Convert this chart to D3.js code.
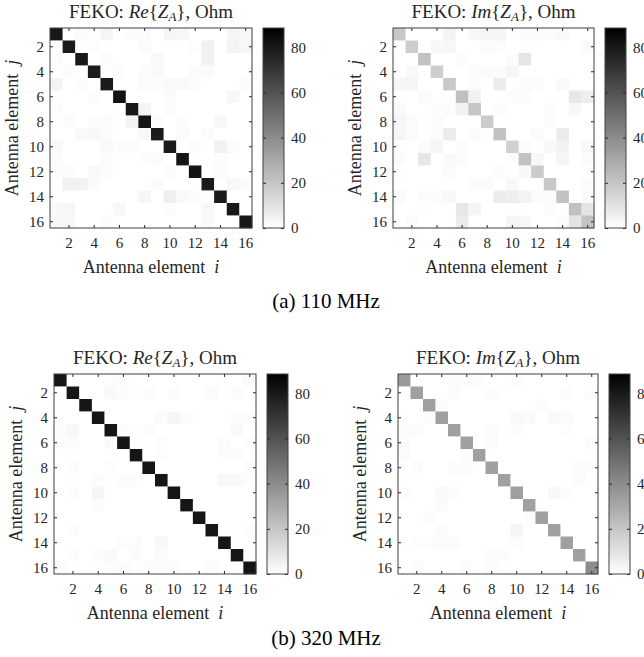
<!DOCTYPE html>
<html><head><meta charset="utf-8">
<script src="https://cdn.jsdelivr.net/npm/d3@7"></script>
<style>
body{margin:0;background:#fff;}
svg, svg text, svg tspan{font-family:'Liberation Serif','DejaVu Serif',serif !important;}
text{fill:#262626;}
</style></head>
<body><svg id="c" width="644" height="657" font-family="Liberation Serif"></svg>
<script>
const elements = d3.range(1, 17);
const axisTicks = [2, 4, 6, 8, 10, 12, 14, 16];
const colorTicks = [0, 20, 40, 60, 80];
const colorMax = 88.5;
const captions = ["(a) 110 MHz", "(b) 320 MHz"];

// rows = element j (top to bottom), columns = element i (left to right)
const reZ110 = [
 [80,0,1.5,0.5,3.5,0,1,1,0,3,2.5,0,0,0,3,2.5],
 [0.5,79,0,1,0,0,0,1.5,0,0,0,1,5,0,4,3],
 [1,0,80,0,1,0,0,0,2,0,0,0,4.5,0,0,0],
 [0,1,0,79,0,1,0,1,2,0,0,1.5,1.5,0,0,0],
 [4,0,1,0,79,0,0,1.5,1,2,2,1,0,0,0,1.5],
 [0,0,0,1,0,82,0,0,0,1.5,0,0,0,0,2.5,0],
 [1,0,0,0,0,0.5,80,3.5,0,1,0,0,0,0,0,0],
 [0.5,1.5,0,1,1.5,0,4,82,1.5,0,1,0,0,2.5,0,0],
 [0,0,2,2.5,1,0,0,2,79,0,1.5,0,1,0,0,0],
 [2,0,0,0,2,1.5,1,0,0,79,0,1,0,5,1,0],
 [1.5,0,0,0,1.5,0,0,1,1.5,0,81,0,0,1,0,0],
 [1,1,0,2,1,0,0,0,0,1.5,0,82,0,1,0,0],
 [0,4.5,4.5,1.5,0,0,0,0,1.5,0,0,0,79,0,2.5,1.5],
 [0,0,0,0,0,0,0,3,0,5.5,2,1,0,79,0,0],
 [2,3,0,0,0,2.5,0,0,0,1,0,0,2.5,0,80,0],
 [2.5,2.5,0,0,1.5,0,0,0,0,0,0,0,2,0,0,81]
];
const imZ110 = [
 [19,0,0,0,3.5,0,2.5,3,3,0,1.5,1.5,1,2,0,0],
 [0,17.5,0,2.5,3,0,0,1.5,1,0,0,0,0,0,0,1.5],
 [0,0,21,0,0,1.5,0,0,0,1,9,0,0,0,0,0],
 [0,2.5,0,17.5,0,0,1,1.5,1.5,3,0,0,0,0,0,0],
 [3,3.5,0,0,19,0,1.5,0,6.5,0,1.5,1.5,0,2,0,0],
 [0,0,1.5,0,0,22,5,0,0,1,1,0,0,0,8,6],
 [2,0,0,1,1.5,4.5,20,0,1,0,0,0,1.5,0,2.5,0],
 [3,1.5,0,1.5,0,0,0,18,0,0,0,0,1.5,0,0,0],
 [3.5,1.5,0,1,6.5,0,1.5,0,21,0,0,1.5,0,7,0,0],
 [0,0,1.5,3.5,0,1.5,0,0,0,16,1.5,0,2.5,4.5,0,2.5],
 [1.5,0,8.5,0,2,1.5,0,0,0,1,21,2.5,0,3.5,0,1.5],
 [0,0,0,0,1.5,0,0,0,1,0.5,2.5,18,0,0,0,0],
 [0,0,0,0,0,0,1.5,1.5,0,2.5,0,0,19,0,0,1],
 [2,0,1,1,2.5,0,0,0,6.5,6,4,1.5,1,21,0,1.5],
 [0,0,0.5,0,0,8.5,3.5,0,0,0,0,0,1.5,0,22,9.5],
 [0,1.5,0,0,0,6.5,0,0,0,3,2.5,0,0,1.5,9.5,21]
];
const reZ320 = [
 [81,0,0,0,1,1,0,0,0,0,0,0,0,0,0,1.5],
 [0,81,0,0,2,1,0,1,0,1,0,0,1.5,0,1.5,0],
 [0,0,81,0,0,0,0,0,0,0,0,0,0,0,0,0],
 [0,0,0,81,0,0,0,0,1.5,3,1,0,0,0,1,1],
 [1,2.5,0,0,81,1,0,1,0,0,0,0,0,0,2,0],
 [1,1.5,0,0,1.5,81,0,0,1,0,0,0,0,1,0,1],
 [0,0,0,0,0,0,81,0,1,0,0,0,0,1,1,0],
 [0,1,0,0,1,0,0,81,0,0,0,0,0,0,0,1],
 [0,0,0,1,0,1,1,0,81,0,0,0,0,2.5,2,1],
 [0,1,0,3,0,0,0,0,0,81,0,0,0,0,0,0],
 [0,0,0,1,0,0,0,0,0,0,81,0,0,0,0,0],
 [0,0,0,0,0,0,0,0,0,0,0,81,0,0,0,0],
 [0,1,0,0,0,0,0,0,0,0,0,0,81,0,0,1],
 [0,0,0,0,0,1,1,0,2.5,0,0,0,0,81,0,0],
 [0,1,0,1,2,0,1,0,1.5,0,0,0,0,0,81,0],
 [1,0,0,0,1,1.5,0,1,1,1,0,0,1,0,0,82]
];
const imZ320 = [
 [35,0,0,0,1.5,1.5,1,0,0,1,0,0,0,0,0,0],
 [0,33,0,0,1.5,0,0,1,0,0,0,0,0,1,0,1],
 [0,0,33,1,0,0,0,0,0,0,0,1,0,0,0,0],
 [0,0,1,33,0,0,0,0,0,2,1.5,0,2,1.5,0,0],
 [1.5,1.5,0,0,33,0,0,1,0,1,0,0,0,1,0,0],
 [1.5,0,0,0,0,33,0.5,1.5,0,0,0,0,0,0,0,1],
 [1.5,0,0,0,0,1,33,0,0,0,0,0,0,0,0,0],
 [0,1,0,0,1,1.5,0,33,0,0,0,0,0,0,1,1],
 [0,0,0,0,0,0,0,0,33,0,0,0,0,0,1.5,0],
 [1,0,0,2,1,0,0,0,0,33,0,0,2.5,1,0,0],
 [0,0,0,1.5,0,0,0,0,0,0,33,0.5,0,0,0,0],
 [0,0,1,0,0,0,0,0,0,0,1,33,0,0,0,0],
 [0,0,0,1.5,0,0,0,0,0,3,0,0,33,0,0,0],
 [0,1,1,1.5,1.5,0,0,0,0,1,0,0,0,33,0,0],
 [0,0,0,0,0,0,0,1,1,0,0,0,0,0,33,0],
 [0,1,0,0,0,1,0,1,0,0,0,0,0,0,0,40]
];

const FONT = "Liberation Serif";
const svg = d3.select("#c");
const color = d3.scaleLinear().domain([0, colorMax]).range(["#ffffff", "#000000"]).clamp(true);
const AX = "#404040";

const panels = [
  {m: reZ110, part: "Re", x: 50,  y: 28,  w: 202, h: 200, cb: 263},
  {m: imZ110, part: "Im", x: 393, y: 28,  w: 201, h: 200, cb: 605},
  {m: reZ320, part: "Re", x: 54,  y: 374, w: 202, h: 200, cb: 267},
  {m: imZ320, part: "Im", x: 398, y: 374, w: 200, h: 200, cb: 609}
];

const defs = svg.append("defs");
const grad = defs.append("linearGradient").attr("id", "cbg").attr("x1", 0).attr("x2", 0).attr("y1", 1).attr("y2", 0);
grad.append("stop").attr("offset", 0).attr("stop-color", color(0));
grad.append("stop").attr("offset", 1).attr("stop-color", color(colorMax));

function styleAxis(g, labels) {
  g.attr("font-family", FONT);
  g.select(".domain").remove();
  g.selectAll(".tick line").attr("stroke", "#262626").attr("stroke-width", 1);
  g.selectAll(".tick text").attr("font-size", 15).attr("fill", "#262626").attr("font-family", FONT);
  if (!labels) g.selectAll(".tick text").remove();
}

panels.forEach(p => {
  const g = svg.append("g").attr("font-family", FONT);
  const xs = d3.scaleBand().domain(elements).range([p.x, p.x + p.w]);
  const ys = d3.scaleBand().domain(elements).range([p.y, p.y + p.h]);
  const cells = [];
  p.m.forEach((row, j) => row.forEach((v, i) => cells.push({i: elements[i], j: elements[j], v})));
  g.selectAll("rect.cell").data(cells).join("rect").attr("class", "cell")
    .attr("x", d => xs(d.i)).attr("y", d => ys(d.j))
    .attr("width", xs.bandwidth() + 0.3).attr("height", ys.bandwidth() + 0.3)
    .attr("fill", d => color(d.v));

  const tk = 3;
  const gb = g.append("g").attr("transform", `translate(0,${p.y + p.h})`)
    .call(d3.axisBottom(xs).tickValues(axisTicks).tickSize(-tk).tickPadding(7));
  styleAxis(gb, true);
  gb.selectAll(".tick text").attr("dy", "0.85em");
  const gt = g.append("g").attr("transform", `translate(0,${p.y})`)
    .call(d3.axisTop(xs).tickValues(axisTicks).tickSize(-tk));
  styleAxis(gt, false);
  const gl = g.append("g").attr("transform", `translate(${p.x},0)`)
    .call(d3.axisLeft(ys).tickValues(axisTicks).tickSize(-tk).tickPadding(6));
  styleAxis(gl, true);
  const gr = g.append("g").attr("transform", `translate(${p.x + p.w},0)`)
    .call(d3.axisRight(ys).tickValues(axisTicks).tickSize(-tk));
  styleAxis(gr, false);
  g.append("rect").attr("x", p.x).attr("y", p.y).attr("width", p.w).attr("height", p.h)
    .attr("fill", "none").attr("stroke", AX).attr("stroke-width", 1);

  // title
  const cx = p.x + p.w / 2;
  const t = g.append("text").attr("x", cx).attr("y", p.y - 10).attr("text-anchor", "middle")
    .attr("font-size", 19).attr("font-family", FONT);
  t.append("tspan").text("FEKO: ");
  t.append("tspan").attr("font-style", "italic").text(p.part);
  t.append("tspan").text("{");
  t.append("tspan").attr("font-style", "italic").text("Z");
  t.append("tspan").attr("font-style", "italic").attr("font-size", 13).attr("dy", 3).text("A");
  t.append("tspan").attr("dy", -3).text("}, Ohm");

  // axis labels
  const xl = g.append("text").attr("x", cx).attr("y", p.y + p.h + 45).attr("text-anchor", "middle")
    .attr("font-size", 18).attr("font-family", FONT);
  xl.append("tspan").text("Antenna element\u2002");
  xl.append("tspan").attr("font-style", "italic").text("i");
  const yl = g.append("text").attr("transform", `translate(${p.x - 32},${p.y + p.h / 2}) rotate(-90)`)
    .attr("text-anchor", "middle").attr("font-size", 18).attr("font-family", FONT);
  yl.append("tspan").text("Antenna element\u2002");
  yl.append("tspan").attr("font-style", "italic").text("j");

  // colorbar
  const cbw = 21;
  const cs = d3.scaleLinear().domain([0, colorMax]).range([p.y + p.h, p.y]);
  g.append("rect").attr("x", p.cb).attr("y", p.y).attr("width", cbw).attr("height", p.h).attr("fill", "url(#cbg)");
  const cr = g.append("g").attr("transform", `translate(${p.cb + cbw},0)`)
    .call(d3.axisRight(cs).tickValues(colorTicks).tickSize(-tk).tickPadding(7));
  styleAxis(cr, true);
  const cl = g.append("g").attr("transform", `translate(${p.cb},0)`)
    .call(d3.axisLeft(cs).tickValues(colorTicks).tickSize(-tk));
  styleAxis(cl, false);
  g.append("rect").attr("x", p.cb).attr("y", p.y).attr("width", cbw).attr("height", p.h)
    .attr("fill", "none").attr("stroke", AX).attr("stroke-width", 1);
});

svg.append("text").attr("x", 326).attr("y", 308).attr("text-anchor", "middle").attr("font-size", 21)
  .attr("font-family", FONT).style("fill", "#000").text(captions[0]);
svg.append("text").attr("x", 326).attr("y", 645).attr("text-anchor", "middle").attr("font-size", 21)
  .attr("font-family", FONT).style("fill", "#000").text(captions[1]);
</script>
</body></html>
